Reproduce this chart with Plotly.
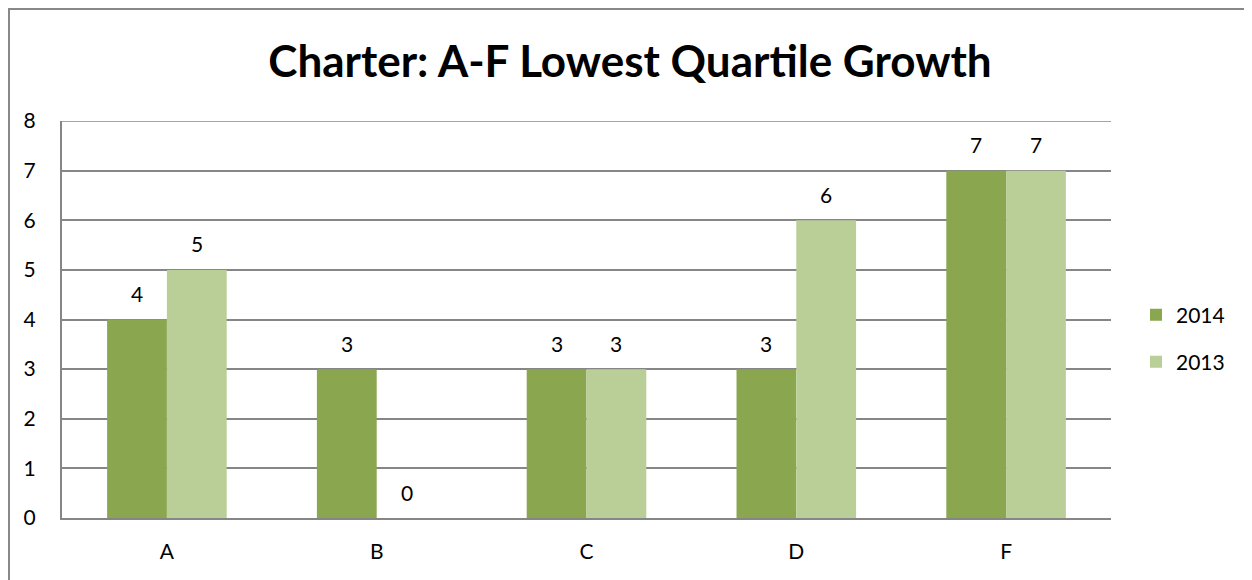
import plotly.graph_objects as go

categories = ["A", "B", "C", "D", "F"]
series_2014 = [4, 3, 3, 3, 7]
series_2013 = [5, 0, 3, 6, 7]
y_ticks = [0, 1, 2, 3, 4, 5, 6, 7, 8]

# page body has an 8px margin, so the figure is drawn from (8, 8)
W, H = 1244, 572
L, T = 54, 113
pw, ph = 1049, 397
R, B = W - L - pw, H - T - ph

font = "Lato, Open Sans, sans-serif"
c2014, c2013 = "#8AA64F", "#BACF97"
grid = "#868686"
bargap = 0.43
half_bar = pw / len(categories) * (1 - bargap) / 4

fig = go.Figure()
fig.add_trace(go.Bar(name="2014", x=categories, y=series_2014, marker_color=c2014,
                     marker_line_width=0, legend="legend"))
fig.add_trace(go.Bar(name="2013", x=categories, y=series_2013, marker_color=c2013,
                     marker_line_width=0, legend="legend2"))

for vals, shift in ((series_2014, -half_bar), (series_2013, half_bar)):
    for cat, v in zip(categories, vals):
        fig.add_annotation(x=cat, y=v, text=str(v), showarrow=False, xshift=shift, yshift=26,
                           yanchor="middle", xanchor="center",
                           font=dict(family=font, size=21, color="#000000"))

leg_x = (1128 - L) / pw
fig.update_layout(
    width=W, height=H,
    margin=dict(l=L, r=R, t=T, b=B, pad=0),
    barmode="group", bargap=bargap, bargroupgap=0,
    paper_bgcolor="white", plot_bgcolor="white",
    title=dict(text="<b>Charter: A-F Lowest Quartile Growth</b>", x=0.5, xanchor="center",
               y=1 - 54 / H, yanchor="middle",
               font=dict(family=font, size=44, color="#000000")),
    font=dict(family=font, size=21, color="#000000"),
    showlegend=True,
    legend=dict(x=leg_x, y=(510 - 307) / ph, xanchor="left", yanchor="middle",
                font=dict(size=21, family=font), bgcolor="rgba(0,0,0,0)"),
    legend2=dict(x=leg_x, y=(510 - 354) / ph, xanchor="left", yanchor="middle",
                 font=dict(size=21, family=font), bgcolor="rgba(0,0,0,0)"),
    xaxis=dict(showgrid=False, showline=True, linecolor=grid, linewidth=2,
               ticks="", tickfont=dict(size=21), ticklabelstandoff=14),
    yaxis=dict(range=[0, max(y_ticks)], tickvals=y_ticks, showgrid=True, gridcolor=grid,
               gridwidth=1.5, showline=True, linecolor=grid, linewidth=2, zeroline=False,
               ticks="", tickfont=dict(size=21), ticklabelstandoff=20),
)

# top gridline at the axis maximum
fig.add_shape(type="line", xref="paper", yref="y", x0=0, x1=1,
              y0=max(y_ticks), y1=max(y_ticks), line=dict(color=grid, width=1.5), layer="below")

# outer chart border
fig.add_shape(type="rect", xref="paper", yref="paper",
              x0=(1 - L) / pw, x1=(W + 20 - L) / pw,
              y0=(ph + T - (H + 20)) / ph, y1=1 + (T - 1) / ph,
              line=dict(color="#888888", width=2), fillcolor="rgba(0,0,0,0)", layer="below")

fig.write_html("out.html")
